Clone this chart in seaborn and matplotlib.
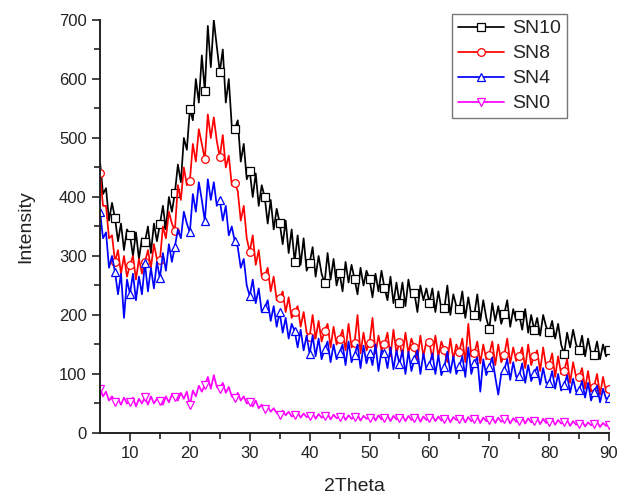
import numpy as np
import matplotlib
matplotlib.use("Agg")
import matplotlib.pyplot as plt
import seaborn as sns

# 2Theta grid (degrees) and hand-read intensities, one value per 0.5 deg
two_theta = np.arange(5.0, 90.5, 0.5)

sn10 = [
    460, 405, 415, 360, 390, 364, 325, 355, 310, 345,
    335, 300, 340, 295, 330, 324, 350, 305, 355, 325,
    354, 385, 345, 400, 375, 407, 455, 425, 500, 480,
    549, 530, 600, 560, 640, 580, 690, 620, 700, 655,
    612, 650, 560, 600, 520, 515, 530, 460, 490, 430,
    444, 400, 440, 385, 420, 400, 355, 395, 345, 380,
    356, 320, 360, 305, 345, 290, 335, 285, 330, 275,
    288, 315, 265, 300, 270, 254, 305, 260, 295, 250,
    271, 240, 290, 255, 285, 261, 235, 280, 250, 275,
    261, 230, 270, 240, 275, 246, 225, 265, 220, 255,
    221, 255, 215, 260, 230, 237, 205, 250, 225, 245,
    221, 245, 205, 240, 210, 211, 250, 200, 235, 215,
    210, 240, 195, 230, 200, 200, 235, 190, 225, 195,
    176, 220, 190, 215, 185, 202, 225, 180, 210, 190,
    200, 175, 210, 170, 200, 175, 195, 165, 200, 180,
    171, 190, 160, 185, 150, 134, 170, 145, 175, 150,
    141, 165, 130, 160, 135, 132, 155, 125, 150, 130,
    140,
]

sn8 = [
    440, 385, 385, 330, 335, 290, 310, 270, 300, 265,
    285, 300, 260, 295, 270, 290, 310, 280, 320, 295,
    293, 350, 330, 375, 355, 343, 420, 395, 450, 420,
    427, 490, 460, 515, 490, 464, 540, 500, 535, 495,
    468, 505, 450, 470, 420, 424, 410, 360, 385, 330,
    307, 335, 285, 310, 265, 266, 280, 240, 265, 225,
    228, 240, 205, 230, 195, 205, 215, 180, 205, 170,
    163, 200, 160, 190, 155, 173, 185, 145, 180, 150,
    159, 175, 140, 185, 145, 152, 200, 135, 170, 140,
    152, 195, 135, 165, 140, 150, 170, 130, 175, 135,
    154, 130, 170, 135, 160, 145, 125, 165, 130, 155,
    154, 125, 165, 130, 155, 140, 120, 160, 125, 150,
    138, 160, 120, 185, 130, 135, 155, 118, 150, 125,
    133, 155, 115, 150, 120, 132, 160, 118, 145, 122,
    130, 145, 110, 150, 115, 131, 140, 105, 145, 112,
    115, 135, 95, 130, 100, 105, 125, 85, 120, 95,
    95, 110, 75, 105, 70, 78, 100, 65, 95, 70,
    75,
]

sn4 = [
    375, 330, 340, 280, 300, 273, 235, 270, 195, 260,
    236, 270, 225, 265, 235, 288, 240, 280, 245, 290,
    262, 305, 275, 320, 290, 316, 345, 330, 375, 355,
    340, 405, 375, 425, 395, 359, 430, 395, 425, 385,
    395, 360, 385, 335, 350, 325, 315, 280, 295, 250,
    232, 260, 220, 245, 205, 212, 225, 190, 215, 180,
    205, 170, 195, 160, 185, 173, 145, 175, 140, 165,
    134, 165, 130, 160, 125, 142, 155, 120, 150, 125,
    136, 150, 115, 155, 120, 132, 150, 110, 148, 118,
    136, 115, 150, 105, 140, 136, 110, 145, 108, 140,
    117, 140, 100, 138, 105, 125, 140, 100, 135, 108,
    115, 135, 100, 132, 98, 112, 138, 102, 130, 100,
    113, 130, 95, 145, 100, 119, 128, 70, 125, 98,
    112, 128, 95, 65, 100, 107, 125, 90, 120, 95,
    97, 118, 85, 115, 88, 101, 112, 82, 110, 85,
    85, 105, 75, 100, 72, 81, 98, 68, 92, 70,
    73, 88, 60, 85, 55, 70, 80, 52, 75, 58,
    60,
]

sn0 = [
    75, 62, 70, 55, 62, 52, 58, 48, 60, 50,
    52, 60, 45, 58, 50, 61, 48, 62, 50, 58,
    55, 48, 62, 52, 65, 61, 55, 68, 58, 70,
    47, 72, 62, 80, 70, 81, 95, 75, 98, 78,
    75, 85, 68, 78, 62, 59, 68, 55, 62, 50,
    52, 45, 55, 42, 48, 40, 45, 36, 42, 34,
    30, 38, 30, 36, 28, 30, 35, 26, 33, 27,
    28, 34, 24, 32, 26, 28, 33, 23, 31, 25,
    27, 32, 22, 30, 24, 27, 31, 21, 29, 24,
    26, 31, 21, 30, 23, 26, 30, 20, 29, 23,
    25, 30, 20, 29, 22, 25, 30, 19, 28, 22,
    25, 29, 20, 28, 21, 24, 29, 18, 27, 22,
    23, 28, 18, 27, 20, 24, 28, 17, 26, 20,
    22, 27, 17, 26, 19, 23, 27, 16, 25, 19,
    21, 26, 16, 25, 18, 21, 25, 15, 24, 17,
    19, 24, 14, 22, 16, 18, 22, 12, 20, 14,
    16, 20, 11, 18, 13, 15, 19, 10, 17, 12,
    14,
]

labels = ["SN10", "SN8", "SN4", "SN0"]
colors = ["#000000", "#ff0000", "#0000ff", "#ff00ff"]
markers = ["s", "o", "^", "v"]
mark_start = [5, 0, 0, 0]

sns.set_style("ticks")
plt.rcParams["font.family"] = ["Liberation Sans", "DejaVu Sans"]

fig = plt.figure(figsize=(6.19, 4.95), dpi=100)
ax = fig.add_axes([0.1616, 0.1253, 0.8223, 0.8343])

for ys, lab, col, mk, st in zip([sn10, sn8, sn4, sn0], labels, colors,
                                markers, mark_start):
    sns.lineplot(x=two_theta, y=ys, ax=ax, color=col, linewidth=1.25,
                 marker=mk, markersize=5.5, markerfacecolor="white",
                 markeredgecolor=col, markeredgewidth=0.9,
                 markevery=(st, 5), errorbar=None, label=lab)

ax.set_xlim(5, 90)
ax.set_ylim(0, 700)
ax.set_xticks(np.arange(10, 91, 10))
ax.set_xticks(np.arange(15, 90, 10), minor=True)
ax.set_yticks(np.arange(0, 701, 100))
ax.set_yticks(np.arange(50, 700, 100), minor=True)
ax.tick_params(axis="both", which="major", direction="out", length=6,
               width=1.2, labelsize=12, colors="#222222", labelcolor="#222222")
ax.tick_params(axis="both", which="minor", direction="out", length=4,
               width=1.2, colors="#222222")
for side in ["top", "right"]:
    ax.spines[side].set_visible(False)
for side in ["left", "bottom"]:
    ax.spines[side].set_linewidth(1.4)
    ax.spines[side].set_color("#222222")

ax.set_xlabel("2Theta", fontsize=14, color="#222222", labelpad=12)
ax.set_ylabel("Intensity", fontsize=14, color="#222222", labelpad=18)

leg = ax.legend(loc="upper right", bbox_to_anchor=(0.917, 1.0145), fontsize=14,
                frameon=True, fancybox=False, framealpha=1, edgecolor="#777777",
                handlelength=2.4, labelspacing=0.38, borderpad=0.3,
                handletextpad=0.4, borderaxespad=0.0)
leg.get_frame().set_linewidth(1.0)

fig.savefig("out.png", dpi=100)
